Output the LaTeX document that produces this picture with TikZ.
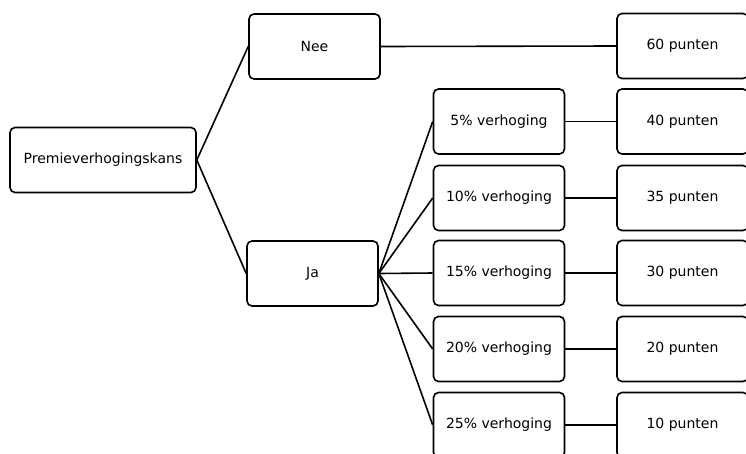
\documentclass[tikz,border=0pt]{standalone}
\usepackage{fontspec}
\setmainfont{DejaVu Sans}
\begin{document}
\begin{tikzpicture}[x=1pt,y=-1pt,
  box/.style={draw,line width=1.6pt,rounded corners=5pt,minimum width=131pt,minimum height=65pt,inner sep=0pt,font=\fontsize{14}{16}\selectfont},
  conn/.style={line width=1.6pt}]
\useasboundingbox (0,0) rectangle (746,453);
\clip (0,0) rectangle (746,453);
\node[box,minimum width=186pt] (p) at (103,160) {Premieverhogingskans};
\node[box] (nee) at (314.5,46.5) {Nee};
\node[box] (ja) at (312.5,273.5) {Ja};
\node[box] (v5) at (499,121.5) {5\% verhoging};
\node[box] (v10) at (499,198) {10\% verhoging};
\node[box] (v15) at (499,273) {15\% verhoging};
\node[box] (v20) at (499,349) {20\% verhoging};
\node[box] (v25) at (499,425) {25\% verhoging};
\node[box] (r60) at (682.5,46) {60 punten};
\node[box] (r40) at (682.5,121.5) {40 punten};
\node[box] (r35) at (682.5,198) {35 punten};
\node[box] (r30) at (682.5,273) {30 punten};
\node[box] (r20) at (682.5,349) {20 punten};
\node[box] (r10) at (682.5,425) {10 punten};
\draw[conn] (p.east) -- (nee.west);
\draw[conn] (p.east) -- (ja.west);
\draw[conn] (nee.east) -- (r60.west);
\foreach \v in {v5,v10,v15,v20,v25}{\draw[conn] (ja.east) -- (\v.west);}
\draw[conn] (v5.east) -- (r40.west);
\draw[conn] (v10.east) -- (r35.west);
\draw[conn] (v15.east) -- (r30.west);
\draw[conn] (v20.east) -- (r20.west);
\draw[conn] (v25.east) -- (r10.west);
\end{tikzpicture}
\end{document}
